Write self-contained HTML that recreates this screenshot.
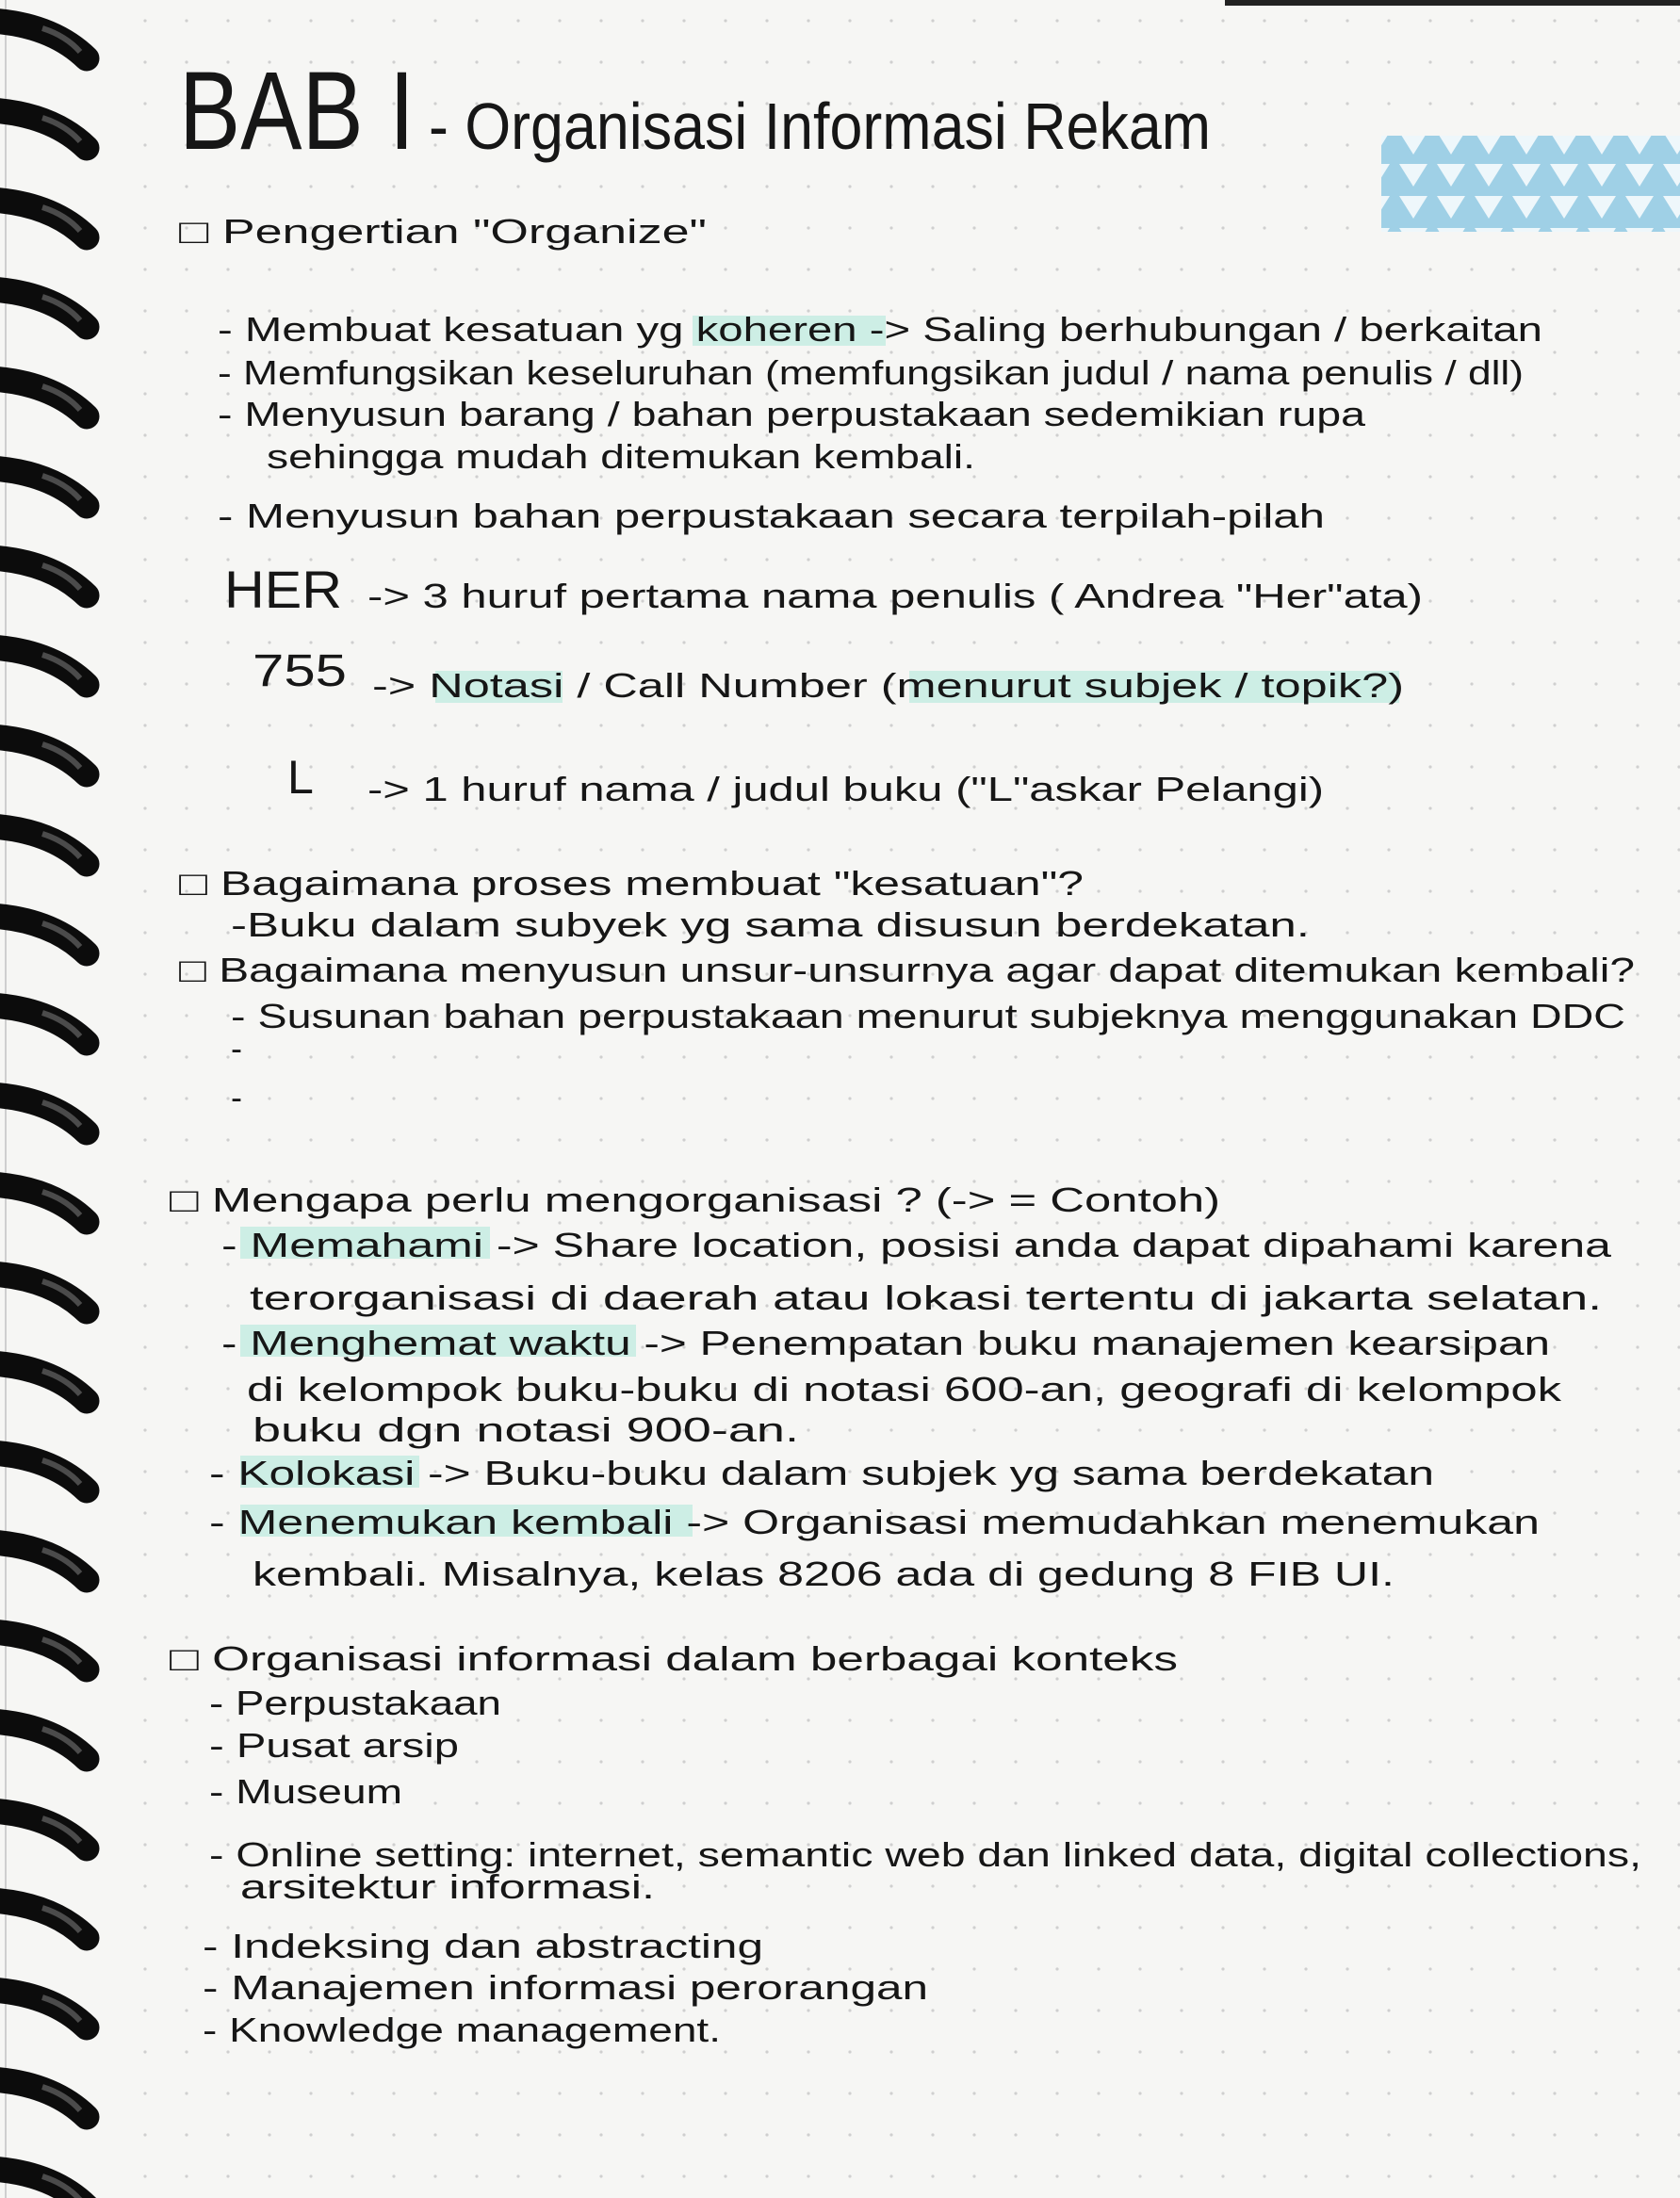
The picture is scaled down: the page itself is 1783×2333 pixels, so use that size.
<!DOCTYPE html>
<html><head><meta charset="utf-8"><style>
html,body{margin:0;padding:0;background:#f5f5f3;}
svg{display:block;}
text{font-family:"Liberation Sans",sans-serif;fill:#161616;}
.t{font-size:36px;}
</style></head><body>
<svg width="1783" height="2333" viewBox="0 0 1783 2333" xmlns="http://www.w3.org/2000/svg">
<defs>
<pattern id="dots" width="44" height="44" patternUnits="userSpaceOnUse">
<circle cx="22" cy="22" r="1.6" fill="#cfcfcf"/>
</pattern>
<pattern id="tape" width="40" height="34" patternUnits="userSpaceOnUse">
<rect width="40" height="34" fill="#9fd0e6"/>
<polygon points="5,4 35,4 20,28" fill="#eef7fb"/>
</pattern>
<g id="hook">
<path d="M -10 22 Q 55 26 92 62" stroke="#0c0c0c" stroke-width="27" fill="none" stroke-linecap="round"/>
<path d="M 45 30 Q 70 38 85 55" stroke="#777" stroke-width="6" fill="none" opacity="0.6"/>
</g>
</defs>
<rect width="1783" height="2333" fill="#f6f6f4"/>
<rect x="120" width="1663" height="2333" fill="url(#dots)"/>
<rect x="1300" y="0" width="483" height="6" fill="#222"/>
<line x1="6" y1="0" x2="6" y2="2333" stroke="#cfcfcf" stroke-width="2"/>
<g>
<use href="#hook" y="0"/><use href="#hook" y="95"/><use href="#hook" y="190"/><use href="#hook" y="285"/>
<use href="#hook" y="380"/><use href="#hook" y="475"/><use href="#hook" y="570"/><use href="#hook" y="665"/>
<use href="#hook" y="760"/><use href="#hook" y="855"/><use href="#hook" y="950"/><use href="#hook" y="1045"/>
<use href="#hook" y="1140"/><use href="#hook" y="1235"/><use href="#hook" y="1330"/><use href="#hook" y="1425"/>
<use href="#hook" y="1520"/><use href="#hook" y="1615"/><use href="#hook" y="1710"/><use href="#hook" y="1805"/>
<use href="#hook" y="1900"/><use href="#hook" y="1995"/><use href="#hook" y="2090"/><use href="#hook" y="2185"/>
<use href="#hook" y="2280"/>
</g>
<rect x="1466" y="144" width="317" height="102" fill="url(#tape)"/>

<!-- highlights -->
<g fill="#cdeee5">
<rect x="735" y="335" width="205" height="32"/>
<rect x="462" y="712" width="135" height="34"/>
<rect x="965" y="712" width="520" height="34"/>
<rect x="255" y="1302" width="265" height="34"/>
<rect x="255" y="1406" width="420" height="34"/>
<rect x="255" y="1545" width="190" height="34"/>
<rect x="255" y="1597" width="480" height="34"/>
</g>

<text x="190" y="158" font-size="118" textLength="250" lengthAdjust="spacingAndGlyphs">BAB I</text>
<text x="455" y="158" font-size="70" textLength="830" lengthAdjust="spacingAndGlyphs">- Organisasi Informasi Rekam</text>

<g class="t">
<text x="190" y="258" textLength="560" lengthAdjust="spacingAndGlyphs">□ Pengertian   "Organize"</text>
<text x="231" y="362" textLength="1406" lengthAdjust="spacingAndGlyphs">- Membuat kesatuan yg koheren  -&gt; Saling berhubungan / berkaitan</text>
<text x="231" y="408" textLength="1386" lengthAdjust="spacingAndGlyphs">- Memfungsikan keseluruhan (memfungsikan judul / nama penulis / dll)</text>
<text x="231" y="452" textLength="1218" lengthAdjust="spacingAndGlyphs">- Menyusun barang / bahan perpustakaan  sedemikian  rupa</text>
<text x="283" y="497" textLength="752" lengthAdjust="spacingAndGlyphs">sehingga mudah ditemukan kembali.</text>
<text x="231" y="560" textLength="1175" lengthAdjust="spacingAndGlyphs">- Menyusun bahan perpustakaan secara terpilah-pilah</text>
<text x="238" y="645" font-size="56" textLength="125" lengthAdjust="spacingAndGlyphs">HER</text>
<text x="390" y="645" textLength="1120" lengthAdjust="spacingAndGlyphs">-&gt; 3 huruf  pertama nama  penulis  ( Andrea  "Her"ata)</text>
<text x="268" y="728" font-size="48" textLength="100" lengthAdjust="spacingAndGlyphs">755</text>
<text x="395" y="740" textLength="1095" lengthAdjust="spacingAndGlyphs">-&gt; Notasi   / Call  Number   (menurut  subjek / topik?)</text>
<text x="305" y="842" font-size="50">L</text>
<text x="390" y="850" textLength="1015" lengthAdjust="spacingAndGlyphs">-&gt; 1 huruf  nama / judul  buku  ("L"askar Pelangi)</text>
<text x="190" y="950" textLength="960" lengthAdjust="spacingAndGlyphs">□ Bagaimana  proses  membuat  "kesatuan"?</text>
<text x="245" y="994" textLength="1145" lengthAdjust="spacingAndGlyphs">-Buku dalam subyek yg sama disusun berdekatan.</text>
<text x="190" y="1042" textLength="1545" lengthAdjust="spacingAndGlyphs">□ Bagaimana  menyusun unsur-unsurnya agar dapat ditemukan kembali?</text>
<text x="245" y="1091" textLength="1480" lengthAdjust="spacingAndGlyphs">- Susunan bahan perpustakaan menurut subjeknya menggunakan DDC</text>
<text x="245" y="1125">-</text>
<text x="245" y="1177">-</text>
<text x="180" y="1286" textLength="1115" lengthAdjust="spacingAndGlyphs">□ Mengapa perlu mengorganisasi ?  (-&gt; = Contoh)</text>
<text x="235" y="1334" textLength="1475" lengthAdjust="spacingAndGlyphs">- Memahami -&gt; Share location, posisi anda dapat dipahami karena</text>
<text x="265" y="1390" textLength="1435" lengthAdjust="spacingAndGlyphs">terorganisasi di daerah atau lokasi tertentu di jakarta selatan.</text>
<text x="235" y="1438" textLength="1410" lengthAdjust="spacingAndGlyphs">- Menghemat waktu -&gt; Penempatan buku manajemen kearsipan</text>
<text x="262" y="1487" textLength="1395" lengthAdjust="spacingAndGlyphs">di kelompok buku-buku di notasi 600-an, geografi di kelompok</text>
<text x="268" y="1530" textLength="580" lengthAdjust="spacingAndGlyphs">buku dgn notasi 900-an.</text>
<text x="222" y="1576" textLength="1300" lengthAdjust="spacingAndGlyphs">- Kolokasi -&gt; Buku-buku dalam subjek yg sama berdekatan</text>
<text x="222" y="1628" textLength="1412" lengthAdjust="spacingAndGlyphs">- Menemukan kembali -&gt; Organisasi memudahkan menemukan</text>
<text x="268" y="1683" textLength="1212" lengthAdjust="spacingAndGlyphs">kembali. Misalnya, kelas 8206 ada di gedung 8 FIB UI.</text>
<text x="180" y="1773" textLength="1070" lengthAdjust="spacingAndGlyphs">□ Organisasi informasi dalam berbagai konteks</text>
<text x="222" y="1820" textLength="310" lengthAdjust="spacingAndGlyphs">- Perpustakaan</text>
<text x="222" y="1865" textLength="265" lengthAdjust="spacingAndGlyphs">- Pusat arsip</text>
<text x="222" y="1914" textLength="205" lengthAdjust="spacingAndGlyphs">- Museum</text>
<text x="222" y="1981" textLength="1520" lengthAdjust="spacingAndGlyphs">- Online setting: internet, semantic web dan linked data, digital collections,</text>
<text x="255" y="2015" textLength="440" lengthAdjust="spacingAndGlyphs">arsitektur informasi.</text>
<text x="215" y="2078" textLength="595" lengthAdjust="spacingAndGlyphs">- Indeksing dan abstracting</text>
<text x="215" y="2122" textLength="770" lengthAdjust="spacingAndGlyphs">- Manajemen informasi perorangan</text>
<text x="215" y="2167" textLength="550" lengthAdjust="spacingAndGlyphs">- Knowledge management.</text>
</g>
</svg>
</body></html>
